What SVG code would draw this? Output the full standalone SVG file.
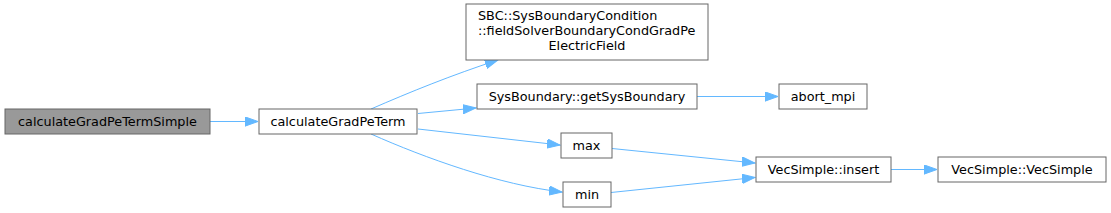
<svg xmlns="http://www.w3.org/2000/svg" width="1111" height="213" viewBox="0 0 1111 213">
<style>
.n rect{fill:#ffffff;stroke:#666666;stroke-width:1}
.n.root rect{fill:#999999}
.n text{font-family:"DejaVu Sans",sans-serif;font-size:12.8px;fill:#000000;text-anchor:middle}
.e path{fill:none;stroke:#63b8ff;stroke-width:1}
</style>
<defs>
<marker id="ah" markerUnits="userSpaceOnUse" markerWidth="14" markerHeight="11" refX="13" refY="5" orient="auto">
<path d="M0,0.35 L13,5 L0,9.65 z" fill="#63b8ff" stroke="#63b8ff" stroke-width="1"/>
</marker>
</defs>
<g class="e">
<path d="M210,121.5 L258,121.5" marker-end="url(#ah)"/>
<path d="M371,109 C410,92 452,75 498,60" marker-end="url(#ah)"/>
<path d="M418,113.5 L476,108" marker-end="url(#ah)"/>
<path d="M418,129 L560,145" marker-end="url(#ah)"/>
<path d="M371,134 C425,158 500,185 562,192" marker-end="url(#ah)"/>
<path d="M697,96.5 L778,96.5" marker-end="url(#ah)"/>
<path d="M612,148.5 L755,163" marker-end="url(#ah)"/>
<path d="M611,192.5 L755,177.5" marker-end="url(#ah)"/>
<path d="M891,169.5 L937,169.5" marker-end="url(#ah)"/>
</g>
<g id="node1" class="n root"><rect x="5" y="109" width="205" height="25"/><text x="107.5" y="125.5">calculateGradPeTermSimple</text></g>
<g id="node2" class="n"><rect x="259" y="109" width="158" height="25"/><text x="338" y="125.5">calculateGradPeTerm</text></g>
<g id="node3" class="n"><rect x="466" y="4" width="242" height="56"/><text x="478" y="20" style="text-anchor:start">SBC::SysBoundaryCondition</text><text x="478" y="35" style="text-anchor:start">::fieldSolverBoundaryCondGradPe</text><text x="587" y="50">ElectricField</text></g>
<g id="node4" class="n"><rect x="477" y="84" width="220" height="25"/><text x="587" y="100.5">SysBoundary::getSysBoundary</text></g>
<g id="node5" class="n"><rect x="779" y="84" width="88" height="25"/><text x="823" y="100.5">abort_mpi</text></g>
<g id="node6" class="n"><rect x="561" y="133" width="51" height="25"/><text x="586.5" y="149.5">max</text></g>
<g id="node7" class="n"><rect x="563" y="182" width="48" height="25"/><text x="587" y="198.5">min</text></g>
<g id="node8" class="n"><rect x="756" y="157" width="135" height="25"/><text x="823.5" y="173.5">VecSimple::insert</text></g>
<g id="node9" class="n"><rect x="938" y="157" width="168" height="25"/><text x="1022" y="173.5">VecSimple::VecSimple</text></g>
</svg>
